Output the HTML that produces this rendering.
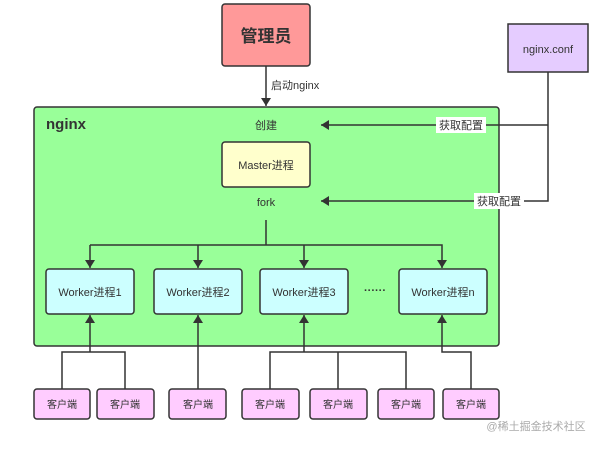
<!DOCTYPE html>
<html><head><meta charset="utf-8"><style>
body{margin:0;background:#fff;}
svg text{font-family:"Liberation Sans","Noto Sans CJK SC",sans-serif;}
</style></head><body>
<svg width="607" height="446" viewBox="0 0 607 446" xmlns="http://www.w3.org/2000/svg">
<defs><marker id="a" markerWidth="8" markerHeight="10" refX="8" refY="5" orient="auto" markerUnits="userSpaceOnUse"><path d="M0,0 L8,5 L0,10 Z" fill="#333"/></marker></defs>
<g stroke="#333" stroke-width="1.5">
<rect x="222" y="4" width="88" height="62" rx="3" fill="#ff9999"/>
<rect x="508" y="24" width="80" height="48" fill="#e5ccff"/>
<rect x="34" y="107" width="465" height="239" rx="3" fill="#99ff99"/>
<rect x="222" y="142" width="88" height="45" rx="3" fill="#ffffcc"/>
<rect x="46" y="269" width="88" height="45" rx="3" fill="#ccffff"/>
<rect x="154" y="269" width="88" height="45" rx="3" fill="#ccffff"/>
<rect x="260" y="269" width="88" height="45" rx="3" fill="#ccffff"/>
<rect x="399" y="269" width="88" height="45" rx="3" fill="#ccffff"/>
<g fill="#ffccff">
<rect x="34" y="389" width="56" height="30" rx="3"/>
<rect x="97" y="389" width="57" height="30" rx="3"/>
<rect x="169" y="389" width="57" height="30" rx="3"/>
<rect x="242" y="389" width="57" height="30" rx="3"/>
<rect x="310" y="389" width="57" height="30" rx="3"/>
<rect x="378" y="389" width="56" height="30" rx="3"/>
<rect x="443" y="389" width="56" height="30" rx="3"/>
</g>
<g fill="none">
<path d="M266,66 V106" marker-end="url(#a)"/>
<path d="M548,72 V201 H321" marker-end="url(#a)"/>
<path d="M548,125 H321" marker-end="url(#a)"/>
<path d="M266,220 V245"/>
<path d="M90,245 H442 V268" marker-end="url(#a)"/>
<path d="M90,245 V268" marker-end="url(#a)"/>
<path d="M198,245 V268" marker-end="url(#a)"/>
<path d="M304,245 V268" marker-end="url(#a)"/>
<path d="M62,389 V352 H125 V389"/>
<path d="M90,352 V315" marker-end="url(#a)"/>
<path d="M198,389 V315" marker-end="url(#a)"/>
<path d="M270,389 V352 H406 V389 M338,352 V389"/>
<path d="M304,352 V315" marker-end="url(#a)"/>
<path d="M471,389 V352 H442 V315" marker-end="url(#a)"/>
</g>
</g>
<rect x="436" y="117" width="50" height="16" fill="#fff"/>
<rect x="474" y="193" width="50" height="16" fill="#fff"/>
<g fill="#333" font-size="11" text-anchor="middle">
<text x="266" y="42" font-size="17" font-weight="bold">管理员</text>
<text x="548" y="53" font-size="11">nginx.conf</text>
<text x="271" y="89" font-size="11" text-anchor="start">启动nginx</text>
<text x="46" y="129" font-size="15" font-weight="bold" text-anchor="start">nginx</text>
<text x="266" y="129" font-size="11">创建</text>
<text x="266" y="169" font-size="11">Master进程</text>
<text x="266" y="206" font-size="11">fork</text>
<text x="461" y="129" font-size="11">获取配置</text>
<text x="499" y="205" font-size="11">获取配置</text>
<text x="90" y="296" font-size="11">Worker进程1</text>
<text x="198" y="296" font-size="11">Worker进程2</text>
<text x="304" y="296" font-size="11">Worker进程3</text>
<text x="443" y="296" font-size="11">Worker进程n</text>
<text x="375" y="294" font-size="11" font-weight="bold">······</text>
<g font-size="10">
<text x="62" y="408">客户端</text><text x="125" y="408">客户端</text><text x="198" y="408">客户端</text>
<text x="270" y="408">客户端</text><text x="338" y="408">客户端</text><text x="406" y="408">客户端</text><text x="471" y="408">客户端</text>
</g>
<text x="536" y="430" font-size="11" fill="#aaa">@稀土掘金技术社区</text>
</g>
</svg>
</body></html>
